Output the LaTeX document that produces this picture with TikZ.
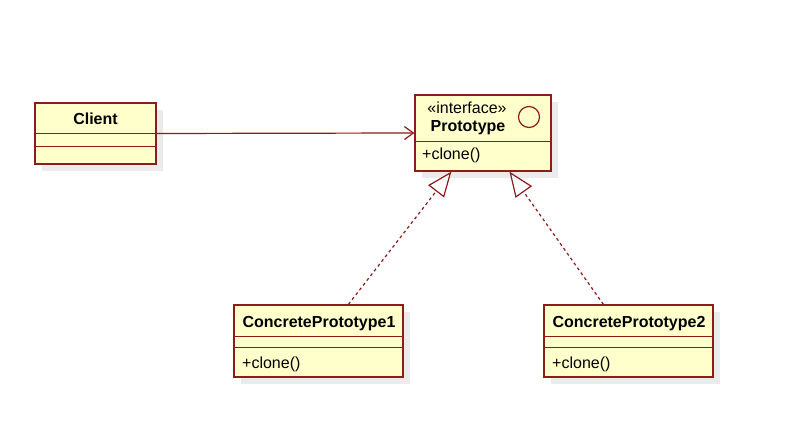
\documentclass[tikz,border=0pt]{standalone}
\usepackage{fontspec}
\setmainfont{Liberation Sans}
\usetikzlibrary{arrows.meta,shadows}
\definecolor{umlfill}{HTML}{FFFFCC}
\definecolor{umlline}{HTML}{8E1B1B}
\definecolor{umlshadow}{HTML}{EBEBEB}
\begin{document}
\begin{tikzpicture}[x=1pt,y=-1pt, font=\fontsize{16pt}{19pt}\selectfont,
 classbox/.style={draw=umlline, fill=umlfill, line width=1.2pt, inner sep=0pt,
   drop shadow={shadow xshift=7pt, shadow yshift=-7pt, fill=umlshadow, opacity=1}},
 divider/.style={draw=umlline, line width=1.2pt},
 title/.style={font=\fontsize{16pt}{19pt}\selectfont\bfseries, inner sep=0pt, anchor=base},
 stereo/.style={inner sep=0pt, anchor=base},
 member/.style={inner sep=0pt, anchor=base west},
 assoc/.style={draw=umlline, line width=1.2pt, -{Straight Barb[length=9pt, width=13pt, line width=1.2pt]}},
 realize/.style={draw=umlline, line width=1.2pt, dash pattern=on 3pt off 3pt,
   -{Triangle[open, length=25pt, width=20pt, fill=white, line width=1.2pt]}}]
\useasboundingbox[fill=white] (0,0) rectangle (805,443);

% Client
\node[classbox, minimum width=121pt, minimum height=61pt] (client) at (95.5,133.5) {};
\draw[divider] ([yshift=-31pt]client.north west) -- ([yshift=-31pt]client.north east);
\draw[divider] ([yshift=-44pt]client.north west) -- ([yshift=-44pt]client.north east);
\node[title] (clientname) at (95.5,125) {Client};

% Prototype
\node[classbox, minimum width=136pt, minimum height=76pt] (proto) at (483,133) {};
\draw[divider] ([yshift=-47pt]proto.north west) -- ([yshift=-47pt]proto.north east);
\node[stereo] (protostereo) at (467,114) {«interface»};
\node[title] (protoname) at (468,132) {Prototype};
\node[draw=umlline, circle, minimum size=21pt, inner sep=0pt, line width=1.2pt] (iface) at (529,117) {};
\node[member] (protoop) at (422,160) {+clone()};

% ConcretePrototype1
\node[classbox, minimum width=169pt, minimum height=72pt] (cp1) at (318.5,341) {};
\draw[divider] ([yshift=-32pt]cp1.north west) -- ([yshift=-32pt]cp1.north east);
\draw[divider] ([yshift=-43pt]cp1.north west) -- ([yshift=-43pt]cp1.north east);
\node[title] (cp1name) at (319,327) {ConcretePrototype1};
\node[member] (cp1op) at (242,368) {+clone()};

% ConcretePrototype2
\node[classbox, minimum width=169pt, minimum height=72pt] (cp2) at (628.5,341) {};
\draw[divider] ([yshift=-32pt]cp2.north west) -- ([yshift=-32pt]cp2.north east);
\draw[divider] ([yshift=-43pt]cp2.north west) -- ([yshift=-43pt]cp2.north east);
\node[title] (cp2name) at (629,327) {ConcretePrototype2};
\node[member] (cp2op) at (552,368) {+clone()};

% Connectors
\draw[assoc] (client.east) -- (proto.west);
\draw[realize] ([xshift=115pt]cp1.north west) -- ([xshift=37pt]proto.south west);
\draw[realize] ([xshift=60pt]cp2.north west) -- ([xshift=95pt]proto.south west);
\end{tikzpicture}
\end{document}
